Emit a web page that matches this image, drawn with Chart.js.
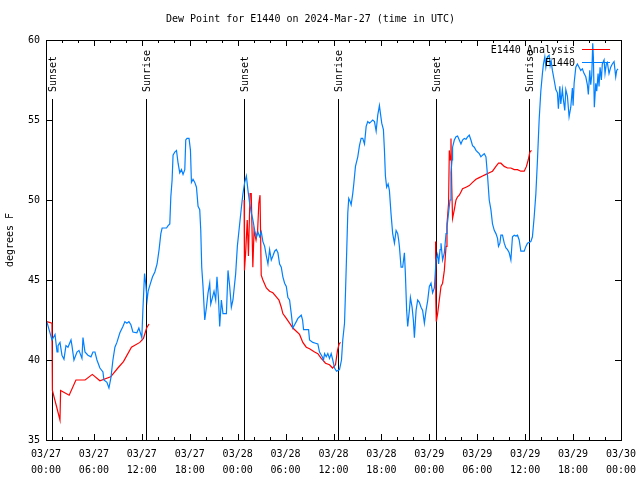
<!DOCTYPE html>
<html>
<head>
<meta charset="utf-8">
<script src="https://cdn.jsdelivr.net/npm/chart.js@4/dist/chart.umd.min.js"></script>
<style>
  html, body { margin: 0; padding: 0; background: #fff; }
  canvas { display: block; }
</style>
</head>
<body>
<canvas id="dewChart" width="640" height="480"></canvas>
<script>
// --- data (hours since 03/27 00:00 UTC, deg F) ---
const titleText = 'Dew Point for E1440 on 2024-Mar-27 (time in UTC)';
const yAxisTitle = 'degrees F';
const dayLabels = ['03/27','03/27','03/27','03/27','03/28','03/28','03/28','03/28','03/29','03/29','03/29','03/29','03/30'];
const timeLabels = ['00:00','06:00','12:00','18:00','00:00','06:00','12:00','18:00','00:00','06:00','12:00','18:00','00:00'];

const eventHours = [0.79, 12.56, 24.83, 36.6, 48.87, 60.52];
const eventNames = ['Sunset','Sunrise','Sunset','Sunrise','Sunset','Sunrise'];

// observed (blue)
const blueT = [
  0.1,0.75,1.13,1.38,1.5,1.75,2.0,2.25,2.5,2.75,
  3.13,3.25,3.5,3.88,4.13,4.5,4.63,4.88,5.25,5.63,
  5.88,6.13,6.38,6.75,7.13,7.25,7.63,7.88,8.13,8.38,
  8.63,8.88,9.25,9.63,9.88,10.13,10.38,10.63,10.88,11.38,
  11.63,12.0,12.13,12.34,12.5,12.66,12.79,13.09,13.34,13.63,
  13.91,14.16,14.38,14.54,15.09,15.29,15.5,15.63,15.79,15.91,
  16.13,16.34,16.54,16.75,16.96,17.16,17.38,17.5,17.66,17.91,
  18.09,18.21,18.41,18.63,18.84,19.04,19.25,19.38,19.5,19.66,
  19.88,20.09,20.29,20.5,20.63,20.84,21.04,21.25,21.41,21.59,
  21.75,21.96,22.16,22.59,22.79,23.0,23.21,23.41,23.75,23.96,
  24.25,24.46,24.66,24.88,25.09,25.29,25.5,25.71,25.91,26.13,
  26.34,26.54,26.75,26.96,27.16,27.38,27.59,27.79,28.0,28.21,
  28.41,28.63,28.84,29.04,29.25,29.46,29.66,29.88,30.09,30.29,
  30.5,30.71,30.91,31.13,31.34,31.54,31.75,31.96,32.13,32.25,
  32.88,33.0,33.41,33.75,34.04,34.25,34.59,34.75,34.88,35.09,
  35.29,35.5,35.71,35.91,36.13,36.38,36.75,37.0,37.16,37.38,
  37.5,37.66,37.79,37.91,38.09,38.21,38.41,38.54,38.75,39.04,
  39.25,39.46,39.66,39.88,40.09,40.29,40.5,40.71,40.91,41.13,
  41.34,41.54,41.75,41.88,42.04,42.25,42.38,42.5,42.66,42.84,
  43.0,43.21,43.41,43.63,43.84,44.04,44.16,44.25,44.46,44.66,
  44.88,45.0,45.16,45.29,45.5,45.63,45.84,46.0,46.13,46.34,
  46.54,46.75,46.96,47.16,47.38,47.59,47.79,48.0,48.21,48.41,
  48.63,48.84,49.04,49.16,49.34,49.46,49.66,49.88,50.09,50.21,
  50.41,50.59,50.71,50.84,50.91,51.13,51.34,51.54,51.75,51.96,
  52.16,52.38,52.59,52.79,53.0,53.21,53.41,53.63,53.84,54.04,
  54.25,54.46,54.66,54.88,55.09,55.29,55.5,55.71,55.91,56.13,
  56.34,56.54,56.66,56.84,56.96,57.16,57.38,57.59,57.79,58.0,
  58.21,58.41,58.63,58.84,59.04,59.25,59.46,59.88,60.09,60.29,
  60.71,60.91,61.13,61.34,61.54,61.75,61.96,62.16,62.29,62.46,
  62.59,62.79,63.0,63.13,63.25,63.41,63.63,63.84,64.04,64.16,
  64.34,64.46,64.66,64.79,64.96,65.09,65.29,65.5,65.71,65.91,
  66.0,66.13,66.34,66.54,66.75,66.96,67.16,67.38,67.59,67.79,
  67.91,68.09,68.21,68.34,68.46,68.54,68.66,68.84,68.96,69.13,
  69.25,69.38,69.54,69.66,69.88,70.0,70.16,70.29,70.5,70.71,
  70.91,71.13,71.34,71.46,71.63
];
const blueV = [
  42.4,41.25,41.6,40.5,40.9,41.1,40.3,40.05,40.9,40.8,
  41.25,40.9,40.0,40.5,40.6,40.1,41.4,40.5,40.3,40.2,
  40.5,40.5,40.0,39.5,39.25,38.75,38.6,38.25,38.9,40.0,
  40.8,41.1,41.7,42.1,42.4,42.3,42.4,42.2,41.75,41.7,
  42.0,41.4,43.1,45.4,44.7,43.75,44.3,44.8,45.2,45.5,
  46.0,46.9,47.9,48.25,48.25,48.4,48.5,50.2,51.25,52.8,
  53.0,53.1,52.3,51.7,51.9,51.6,51.9,53.75,53.85,53.85,
  53.1,51.1,51.3,51.1,50.8,49.6,49.4,48.1,45.8,44.6,
  42.5,43.3,44.2,44.8,43.5,43.9,44.3,43.75,45.2,43.9,
  42.1,43.75,42.9,42.9,45.6,44.6,43.3,43.75,45.4,47.1,
  48.5,49.5,50.4,51.1,51.5,50.6,49.8,49.2,48.75,48.1,
  47.7,48.0,47.7,48.0,47.4,47.1,46.5,46.0,46.9,46.25,
  46.5,46.8,46.9,46.7,46.0,45.8,45.2,44.8,44.6,43.9,
  43.75,42.9,42.0,42.2,42.4,42.6,42.7,42.8,42.5,41.9,
  41.9,41.25,41.1,41.05,41.0,40.5,40.2,40.0,40.4,40.2,
  40.4,40.1,40.4,40.0,39.5,39.3,39.4,40.0,41.25,42.3,
  44.2,46.9,49.2,50.1,49.9,49.7,50.4,51.0,52.1,52.7,
  53.4,53.85,53.85,53.5,54.6,54.9,54.8,54.9,55.0,54.9,
  54.3,55.3,55.9,55.4,54.8,54.4,53.1,51.5,50.8,51.0,
  50.6,49.1,47.9,47.3,48.1,47.9,47.5,47.1,45.8,45.8,
  46.7,45.4,43.1,42.1,43.1,43.9,43.3,42.5,41.4,43.1,
  43.75,43.6,43.3,43.1,42.3,43.1,43.7,44.6,44.8,44.2,
  44.5,46.25,46.6,46.0,46.9,47.3,46.25,46.7,47.9,48.3,
  49.2,50.0,51.7,52.5,53.3,53.75,53.95,54.0,53.75,53.5,
  53.75,53.85,53.8,53.95,54.05,53.75,53.4,53.3,53.1,53.0,
  52.9,52.7,52.8,52.9,52.7,51.5,50.0,49.4,48.5,48.1,
  47.9,47.6,47.1,47.3,47.8,47.8,47.3,47.0,46.9,46.7,
  46.25,47.7,47.8,47.75,47.8,47.5,46.8,46.8,47.1,47.3,
  47.4,47.7,48.95,50.4,52.5,55.0,56.8,57.9,58.5,58.95,
  58.3,58.95,59.05,58.4,58.7,58.1,57.5,56.9,56.7,55.7,
  57.1,56.0,56.9,56.25,55.6,56.9,56.5,55.2,55.8,57.0,
  55.9,57.3,58.3,58.5,58.3,58.1,58.2,57.9,57.7,57.2,
  56.6,58.1,57.2,57.8,59.8,58.95,55.8,57.3,56.8,57.9,
  57.1,58.3,57.5,58.5,58.75,57.9,58.5,58.6,57.9,58.3,
  58.5,58.65,57.7,58.1,58.2
];

// analysis (red), null = gap during daytime
const redT = [
  0.1,0.75,0.8,1.75,1.83,2.9,3.75,4.9,5.8,6.75,8.1,9.0,9.7,10.7,11.75,12.2,12.6,12.9,
  18,
  24.81,24.85,25.0,25.2,25.35,25.55,25.7,25.9,26.05,26.3,26.5,26.65,26.8,26.95,27.16,27.59,
  28.0,28.41,28.84,29.17,29.46,29.66,30.09,30.5,30.91,31.34,31.75,32.16,32.59,33.0,33.63,
  34.04,34.46,34.66,35.0,35.5,35.88,36.25,36.5,36.7,36.88,
  42,
  48.78,48.8,48.83,48.87,49.04,49.25,49.46,49.66,49.88,50.09,50.21,50.41,50.5,50.6,50.71,
  50.8,50.91,51.13,51.34,51.54,51.75,51.96,52.16,52.59,53.0,53.41,53.84,54.25,54.66,55.09,
  55.5,55.91,56.34,56.66,56.96,57.38,57.79,58.21,58.63,59.04,59.46,59.88,60.16,60.38,60.59,60.79
];
const redV = [
  42.4,42.3,38.1,36.25,38.1,37.8,38.75,38.75,39.1,38.7,38.95,39.5,39.9,40.8,41.1,41.35,42.0,42.25,
  null,
  50.0,45.6,46.7,48.75,46.5,50.4,50.4,45.8,48.1,47.5,48.1,49.8,50.3,45.3,45.0,44.5,
  44.3,44.2,43.95,43.75,43.3,42.9,42.6,42.3,42.0,41.8,41.6,41.1,40.8,40.7,40.5,
  40.4,40.1,40.0,39.8,39.7,39.5,39.7,40.6,41.0,41.1,
  null,
  47.4,46.25,43.75,42.4,42.9,43.75,44.6,44.8,45.6,47.1,48.5,49.8,53.1,52.5,53.85,
  51.0,48.85,49.4,50.0,50.2,50.3,50.5,50.7,50.8,50.9,51.1,51.3,51.4,51.5,51.6,
  51.7,51.8,52.1,52.3,52.3,52.1,52.0,52.0,51.9,51.9,51.8,51.8,52.1,52.5,53.0,53.1
];

const FONT_FAMILY = '"DejaVu Sans Mono", "Liberation Mono", monospace';
const FONT_SIZE = 10;
const FONT = FONT_SIZE + 'px ' + FONT_FAMILY;

// sunrise/sunset markers, gnuplot style box, inward ticks and the legend
const gnuplotLook = {
  id: 'gnuplotLook',
  beforeDatasetsDraw(chart) {
    const {ctx, chartArea: a, scales: {x}} = chart;
    ctx.save();
    ctx.strokeStyle = '#000';
    ctx.fillStyle = '#000';
    ctx.lineWidth = 1;
    ctx.font = FONT;
    eventHours.forEach((h, i) => {
      const px = Math.round(x.getPixelForValue(h)) + 0.5;
      ctx.beginPath();
      ctx.moveTo(px, a.top + 59);
      ctx.lineTo(px, a.bottom);
      ctx.stroke();
      ctx.save();
      ctx.translate(px + 1, a.top + 52);
      ctx.rotate(-Math.PI / 2);
      ctx.textAlign = 'left';
      ctx.textBaseline = 'middle';
      ctx.fillText(eventNames[i], 0, 0);
      ctx.restore();
    });
    ctx.restore();
  },
  afterDraw(chart) {
    const {ctx, chartArea: a, scales: {x, y}} = chart;
    ctx.save();
    ctx.strokeStyle = '#000';
    ctx.lineWidth = 1;
    ctx.strokeRect(a.left + 0.5, a.top + 0.5, a.right - a.left, a.bottom - a.top);

    ctx.beginPath();
    for (let h = 0; h <= 72; h += 2) {
      const px = Math.round(x.getPixelForValue(h)) + 0.5;
      const len = h % 6 === 0 ? 6 : 3;
      ctx.moveTo(px, a.bottom); ctx.lineTo(px, a.bottom - len);
      ctx.moveTo(px, a.top); ctx.lineTo(px, a.top + len);
    }
    y.ticks.forEach(t => {
      const py = Math.round(y.getPixelForValue(t.value)) + 0.5;
      ctx.moveTo(a.left, py); ctx.lineTo(a.left + 6, py);
      ctx.moveTo(a.right, py); ctx.lineTo(a.right - 6, py);
    });
    ctx.stroke();

    // legend, top right inside the plot, text then line sample
    const legendItems = [chart.data.datasets[1], chart.data.datasets[0]];
    ctx.font = FONT;
    ctx.textAlign = 'right';
    ctx.textBaseline = 'middle';
    legendItems.forEach((ds, i) => {
      const ly = a.top + 10 + i * 13;
      ctx.fillStyle = '#000';
      ctx.fillText(ds.label, a.right - 46, ly);
      ctx.strokeStyle = ds.borderColor;
      ctx.lineWidth = 1;
      ctx.beginPath();
      ctx.moveTo(a.right - 39, Math.round(ly) - 0.5);
      ctx.lineTo(a.right - 11, Math.round(ly) - 0.5);
      ctx.stroke();
    });
    ctx.restore();
  }
};

const blueData = blueT.map((t, i) => ({x: t, y: blueV[i]}));
const redData = redT.map((t, i) => ({x: t, y: redV[i]}));

new Chart(document.getElementById('dewChart').getContext('2d'), {
  type: 'line',
  data: {
    datasets: [
      {
        label: 'E1440',
        data: blueData,
        borderColor: 'rgb(0,128,255)',
        borderWidth: 1.2,
        pointRadius: 0,
        tension: 0,
        spanGaps: false
      },
      {
        label: 'E1440 Analysis',
        data: redData,
        borderColor: 'rgb(255,0,0)',
        borderWidth: 1.2,
        pointRadius: 0,
        tension: 0,
        spanGaps: false
      }
    ]
  },
  options: {
    responsive: false,
    animation: false,
    events: [],
    devicePixelRatio: 1,
    layout: { padding: { top: 0, right: 19, bottom: 0, left: 0 } },
    plugins: {
      legend: { display: false },
      tooltip: { enabled: false },
      title: {
        display: true,
        text: titleText,
        color: '#000',
        font: { family: FONT_FAMILY, size: FONT_SIZE, weight: 'normal', lineHeight: 1.2 },
        padding: { top: 13, bottom: 15 }
      }
    },
    scales: {
      x: {
        type: 'linear',
        min: 0,
        max: 72,
        grid: { display: false, drawTicks: false },
        border: { display: false },
        ticks: {
          stepSize: 6,
          autoSkip: false,
          maxRotation: 0,
          padding: 6,
          color: '#000',
          font: { family: FONT_FAMILY, size: FONT_SIZE, lineHeight: '16px' },
          callback: (value) => {
            const i = Math.round(value / 6);
            return [dayLabels[i], timeLabels[i]];
          }
        },
        afterFit: (scale) => {
          scale.height = 40;
          scale.paddingLeft = 0;
          scale.paddingRight = 0;
        }
      },
      y: {
        min: 35,
        max: 60,
        grid: { display: false, drawTicks: false },
        border: { display: false },
        title: {
          display: true,
          text: yAxisTitle,
          color: '#000',
          font: { family: FONT_FAMILY, size: FONT_SIZE },
          padding: { top: 4, bottom: 0 }
        },
        ticks: {
          stepSize: 5,
          padding: 6,
          color: '#000',
          font: { family: FONT_FAMILY, size: FONT_SIZE }
        },
        afterFit: (scale) => {
          scale.width = 46;
        }
      }
    }
  },
  plugins: [gnuplotLook]
});
</script>
</body>
</html>
